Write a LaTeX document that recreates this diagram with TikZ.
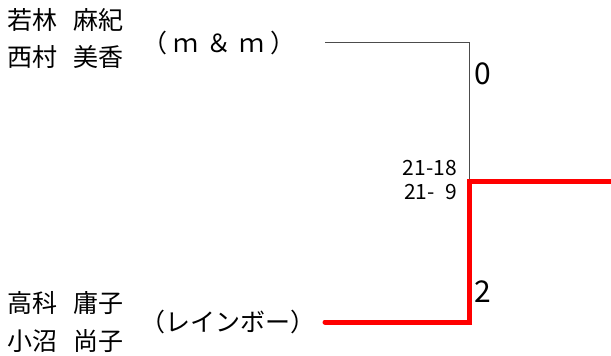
\documentclass[tikz,border=0pt]{standalone}
\usepackage{fontspec}
\setmainfont{Noto Sans CJK JP}
\newcommand{\pSpread}[1]{\hbox to #1{}}
\tikzset{
  pName/.style={anchor=west, inner sep=0pt, font=\fontsize{25}{25}\selectfont},
  pTeam/.style={anchor=west, inner sep=0pt, font=\fontsize{25}{25}\selectfont},
  pScore/.style={anchor=west, inner sep=0pt, font=\fontsize{30}{30}\selectfont},
  pGame/.style={anchor=east, inner sep=0pt, font=\fontsize{21}{21}\selectfont},
  pLose/.style={draw=black!70, line width=1pt},
  pWin/.style={draw=red, line width=5pt, line cap=round, line join=miter}
}
\begin{document}
\begin{tikzpicture}[x=1pt,y=-1pt]
\useasboundingbox (0,0) rectangle (611,356);
% upper pair
\node[pName] (nameA) at (7,20) {若林\hspace{0.65em}麻紀};
\node[pName] (nameB) at (7,57) {西村\hspace{0.65em}美香};
\node[pTeam] (teamA) at (142,43) {（\pSpread{6pt}ｍ\pSpread{8pt}＆\pSpread{8pt}ｍ\pSpread{6pt}）};
% lower pair
\node[pName] (nameC) at (7,303) {高科\hspace{0.65em}庸子};
\node[pName] (nameD) at (7,341) {小沼\hspace{0.65em}尚子};
\node[pTeam] (teamB) at (140,322) {（レインボー）};
% bracket
\coordinate (endA) at (325,42);
\coordinate (endB) at (325,322);
\coordinate (judge) at (469,181);
\coordinate (final) at (613,181);
\draw[pLose] (endA) -| (judge);
\draw[pWin] (endB) -| (judge) -- (final);
% scores
\node[pScore] (scoreA) at (474,74) {0};
\node[pScore] (scoreB) at (474,292) {2};
\node[pGame] (gameA) at (457,168) {21-18};
\node[pGame] (gameB) at (457,192) {21-\hspace{0.5em}9};
\end{tikzpicture}
\end{document}
